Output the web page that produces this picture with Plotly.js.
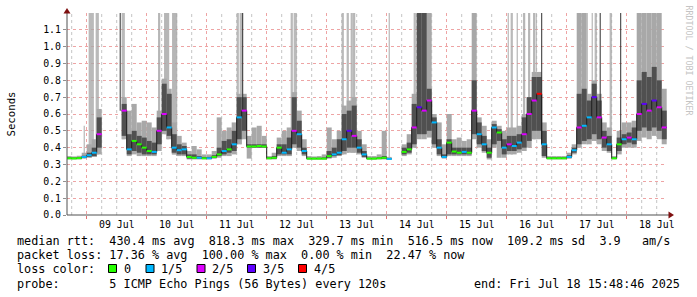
<!DOCTYPE html>
<html><head><meta charset="utf-8">
<script src="https://cdn.plot.ly/plotly-3.0.1.min.js"></script>
<style>html,body{margin:0;padding:0;background:#fff}#chart{width:697px;height:297px}</style>
</head><body><div id="chart"></div>
<script>
// time in hours relative to 09 Jul 2025 00:00, one value per 2-hour bin starting at -8 h
const BIN_START = -8;
const BIN_HOURS = 2;

const medianRtt = [
  .337,.336,.338,.345,.355,.370,.480,null,null,null,null,.620,
  .390,.440,.420,.400,.380,.375,.500,.600,.520,.400,.385,.390,
  .345,.340,.340,.337,.337,.345,.360,.380,.390,.420,.580,.620,
  .407,.407,.410,.407,.337,.340,.400,.370,.390,.500,.480,.380,
  .335,.335,.335,.335,.350,.360,.370,.450,.500,.470,.400,.360,
  .335,.335,.337,.340,.333,null,null,.375,.390,.520,.640,.620,
  .680,.550,.400,.345,.430,.377,.370,.375,.370,.620,.480,.420,
  .370,.520,.490,.400,.420,.410,.430,.480,.600,.680,.720,.420,
  .337,.337,.337,.337,.345,.385,.520,.530,.580,.700,.580,.460,
  .420,.337,.420,.450,.460,.450,.600,.660,.620,.680,.640,.520
];
const lossLevel = [
  0,0,0,1,1,1,2,null,null,null,null,2,
  1,0,0,0,0,1,2,2,1,1,1,1,
  0,0,1,0,1,0,0,1,0,1,1,2,
  0,0,0,0,0,0,0,1,1,2,1,1,
  0,0,0,0,0,1,1,1,3,2,1,1,
  0,0,0,0,1,null,null,0,0,2,3,2,
  2,1,1,1,0,0,0,1,0,2,1,1,
  0,1,0,1,2,1,1,2,2,2,4,1,
  0,0,0,0,1,1,2,1,1,3,2,2,
  1,0,0,1,2,1,2,3,2,3,2,2
];
const smokeMin = [
  .330,.330,.330,.335,.340,.345,.360,null,null,null,null,.450,
  .350,.360,.350,.350,.350,.350,.380,.480,.450,.360,.350,.350,
  .330,.330,.330,.330,.330,.335,.340,.350,.350,.360,.420,.450,
  .335,.400,.400,.400,.330,.330,.350,.350,.350,.400,.380,.350,
  .330,.330,.330,.330,.335,.340,.350,.360,.370,.370,.360,.340,
  .330,.330,.330,.330,.328,null,null,.350,.360,.400,.450,.450,
  .460,.400,.350,.335,.350,.350,.350,.350,.350,.450,.400,.370,
  .330,.400,.340,.340,.360,.360,.370,.380,.400,.450,.450,.340,
  .330,.330,.330,.330,.335,.360,.400,.420,.420,.440,.420,.380,
  .370,.330,.360,.400,.400,.400,.440,.460,.450,.470,.450,.420
];
const smokeMax = [
  .350,.348,.352,.370,.420,.450,.630,null,null,null,null,.700,
  .620,.660,.550,.560,.550,.520,.620,.810,.750,.550,.470,.430,
  .380,.410,.390,.360,.360,.380,.580,.500,.520,.550,.720,.720,
  .470,.520,.530,.470,.350,.370,.460,.500,.520,.730,.620,.450,
  .350,.348,.350,.360,.520,.450,.500,.650,.680,.700,.500,.420,
  .350,.350,.360,.500,.345,null,null,.420,.480,.720,1.2,1.2,
  1.2,.600,.550,.420,.600,.450,.460,.440,.450,1.2,.580,.530,
  .450,.560,.530,.500,.520,.520,.530,.600,.700,.850,.850,.550,
  .350,.350,.350,.350,.370,.420,1.2,1.2,.720,.800,.720,.550,
  .520,.350,.500,.550,.550,.560,1.2,1.2,1.2,1.2,1.2,.750
];
const smokeQ1 = [
  .333,.333,.334,.340,.345,.350,.400,null,null,null,null,.470,
  .360,.380,.370,.360,.360,.360,.420,.500,.470,.370,.360,.360,
  .335,.335,.335,.333,.333,.338,.350,.360,.370,.380,.450,.500,
  .400,.400,.400,.400,.333,.334,.360,.360,.360,.420,.400,.360,
  .332,.332,.332,.332,.340,.350,.355,.380,.400,.400,.370,.345,
  .332,.332,.333,.334,.330,null,null,.360,.370,.420,.480,.480,
  .500,.420,.360,.340,.360,.360,.360,.360,.360,.480,.420,.380,
  .340,.420,.440,.360,.380,.380,.390,.400,.440,.500,.500,.350,
  .333,.333,.333,.333,.338,.370,.420,.440,.450,.480,.450,.400,
  .380,.333,.380,.420,.430,.420,.500,.520,.500,.520,.500,.450
];
const smokeQ3 = [
  .342,.341,.343,.352,.370,.400,.580,null,null,null,null,.660,
  .480,.500,.470,.460,.440,.430,.580,.780,.720,.480,.420,.410,
  .360,.360,.350,.345,.345,.355,.400,.440,.450,.500,.700,.700,
  .420,.420,.420,.420,.342,.350,.420,.420,.460,.700,.560,.400,
  .340,.340,.340,.342,.380,.400,.450,.600,.620,.650,.450,.380,
  .340,.340,.342,.350,.338,null,null,.400,.430,.660,1.2,1.2,
  .750,.580,.450,.360,.450,.400,.400,.400,.400,.800,.550,.470,
  .400,.540,.510,.450,.470,.470,.480,.580,.700,.820,.820,.500,
  .342,.342,.342,.342,.355,.400,.720,.750,.680,.780,.680,.500,
  .470,.342,.460,.480,.490,.520,.800,.850,.820,.880,.800,.620
];
// short timeouts / outliers reaching beyond the plot (hours, 1 px each)
const spikeLightTime = [-1.0,1.0,1.4,1.8,2.2,2.6,3.8,4.2,4.6,14.2,14.6,15.0,28.8,29.2,31.2,31.6,32.0,32.4,32.8,
  34.4,34.8,35.2,35.6,36.0,60.2,60.6,61.4,61.8,62.2,81.8,82.2,83.0,83.4,83.8,102.2,102.6,104.2,104.6,105.8,106.2,
  106.8,107.2,121.0,131.0,131.4,168.6,169.8,170.2,172.2,174.8,175.2,176.8,177.2,178.8,179.2,179.8,200.2,202.2,
  203.4,203.8,209.4,209.8];
const spikeLightTop = [0.53,1.2,1.2,1.2,1.2,1.2,1.2,1.2,1.2,1.2,1.2,1.2,1.2,1.2,1.2,1.2,1.2,1.2,1.2,
  1.2,1.2,1.2,1.2,1.2,1.2,1.2,1.2,1.2,1.2,1.2,1.2,1.2,1.2,1.2,1.2,1.2,1.2,1.2,1.2,1.2,
  1.2,1.2,1.2,1.2,1.2,1.2,1.2,1.2,1.2,1.2,1.2,1.2,1.2,1.2,1.2,1.2,1.2,1.2,
  1.2,1.2,1.2,1.2];
const spikeDarkTime = [13.4,62.4,182.0,205.4,213.6];

const dayLabels = ['09 Jul','10 Jul','11 Jul','12 Jul','13 Jul','14 Jul','15 Jul','16 Jul','17 Jul','18 Jul'];
const yTickValues = [0,0.1,0.2,0.3,0.4,0.5,0.6,0.7,0.8,0.9,1.0,1.1];
const lossLabels = ['0','1/5','2/5','3/5','4/5'];
const lossColors = ['#26ff00','#00b8ff','#dd00ff','#5e00ff','#ff0000'];

const statsLines = [
  'median rtt:  430.4 ms avg  818.3 ms max  329.7 ms min  516.5 ms now  109.2 ms sd  3.9   am/s',
  'packet loss: 17.36 % avg  100.00 % max  0.00 % min  22.47 % now',
  'probe:       5 ICMP Echo Pings (56 Bytes) every 120s'
];
const endLabel = 'end: Fri Jul 18 15:48:46 2025';

// ---------- build ----------
const W = 697, H = 297, L = 67, R = 30, T = 13, B = 82;
const PW = W - L - R, PH = H - T - B;
const X_RANGE = [-7.88, 232.12];
const px = x => (x - L) / PW;
const py = y => (T + PH - y) / PH;
const nb = s => s.replace(/ /g, '\u00a0');
const MONO = 'DejaVu Sans Mono, monospace';

const binX = medianRtt.map((_, i) => BIN_START + i * BIN_HOURS);
const binC = binX.map(x => x + BIN_HOURS / 2);
function binOf(t) {
  let i = Math.floor((t - BIN_START) / BIN_HOURS);
  while (i < medianRtt.length && medianRtt[i] == null) i++;
  return Math.min(i, medianRtt.length - 1);
}

const traces = [];
traces.push({type:'bar', x:binC, base:smokeMin, y:smokeMax.map((v,i)=>v==null?null:v-smokeMin[i]),
  width:BIN_HOURS, marker:{color:'#a8a8a8', line:{width:0}}, hoverinfo:'skip'});
traces.push({type:'bar', x:spikeLightTime, base:spikeLightTime.map(t=>smokeMin[binOf(t)]),
  y:spikeLightTime.map((t,i)=>spikeLightTop[i]-smokeMin[binOf(t)]),
  width:0.4, marker:{color:'#a8a8a8', line:{width:0}}, hoverinfo:'skip'});
traces.push({type:'bar', x:binC, base:smokeQ1, y:smokeQ3.map((v,i)=>v==null?null:v-smokeQ1[i]),
  width:BIN_HOURS, marker:{color:'#505050', line:{width:0}}, hoverinfo:'skip'});
traces.push({type:'bar', x:spikeDarkTime, base:spikeDarkTime.map(t=>medianRtt[binOf(t)]),
  y:spikeDarkTime.map(t=>1.2-medianRtt[binOf(t)]),
  width:0.4, marker:{color:'#303030', line:{width:0}}, hoverinfo:'skip'});
const cx = [], cy = [];
medianRtt.forEach((m,i)=>{ cx.push(binX[i]); cy.push(m);
  if (m!=null && (i===medianRtt.length-1)) { cx.push(binX[i]+BIN_HOURS); cy.push(m); } });
traces.push({type:'scatter', mode:'lines', x:cx, y:cy, line:{shape:'hv', color:'#1a1a1a', width:1},
  connectgaps:false, hoverinfo:'skip'});
lossColors.forEach((col, lvl) => {
  const sx = [], sy = [];
  medianRtt.forEach((m,i)=>{ if (m!=null && lossLevel[i]===lvl) { sx.push(binX[i], binX[i]+BIN_HOURS, null); sy.push(m, m, null); } });
  traces.push({type:'scatter', mode:'lines', x:sx, y:sy, line:{color:col, width:2}, hoverinfo:'skip'});
});

const shapes = [], annotations = [];
// 6-hour minor grid (gray dotted), skipping midnights which carry the red major grid
for (let h = Math.ceil(X_RANGE[0] / 6) * 6; h <= X_RANGE[1]; h += 6) {
  if (h % 24 === 0) continue;
  shapes.push({type:'line', xref:'x', yref:'paper', x0:h, x1:h, y0:0, y1:1, layer:'below',
    line:{color:'#c4c4c4', width:1, dash:'dot'}});
}
shapes.push({type:'line', xref:'paper', yref:'paper', x0:0, x1:0, y0:0, y1:py(11), line:{color:'#505050', width:1}});
shapes.push({type:'line', xref:'paper', yref:'paper', x0:0, x1:px(669), y0:0, y1:0, line:{color:'#505050', width:1}});
shapes.push({type:'path', xref:'paper', yref:'paper', path:`M${px(63.5)},${py(13.5)} L${px(70.5)},${py(13.5)} L${px(67)},${py(8)} Z`,
  fillcolor:'#7f1010', line:{width:0}});
shapes.push({type:'path', xref:'paper', yref:'paper', path:`M${px(668.5)},${py(211.5)} L${px(668.5)},${py(218.5)} L${px(674)},${py(215)} Z`,
  fillcolor:'#7f1010', line:{width:0}});

dayLabels.forEach((lab, k) => annotations.push({xref:'x', yref:'paper', x:12 + 24*k, y:py(224.5), text:nb(lab),
  showarrow:false, xanchor:'center', yanchor:'middle', font:{family:MONO, size:9.9, color:'#000'}}));

annotations.push({xref:'paper', yref:'paper', x:px(10.5), y:py(114), text:'Seconds', textangle:-90, showarrow:false,
  xanchor:'center', yanchor:'middle', font:{family:MONO, size:10.7, color:'#000'}});
annotations.push({xref:'paper', yref:'paper', x:px(688.5), y:py(60), text:nb('RRDTOOL / TOBI OETIKER'), textangle:90, showarrow:false,
  xanchor:'center', yanchor:'middle', font:{family:MONO, size:8.3, color:'#c4c4c4'}});

const LF = {family:MONO, size:11.8, color:'#000'};
[[statsLines[0], 241.3], [statsLines[1], 255.3], [statsLines[2], 283.7]].forEach(([t, y]) =>
  annotations.push({xref:'paper', yref:'paper', x:px(16), y:py(y), text:nb(t), showarrow:false,
    xanchor:'left', yanchor:'middle', borderpad:0, font:LF}));
annotations.push({xref:'paper', yref:'paper', x:px(681), y:py(283.7), text:nb(endLabel), showarrow:false,
  xanchor:'right', yanchor:'middle', borderpad:0, font:LF});
annotations.push({xref:'paper', yref:'paper', x:px(16), y:py(268.7), text:nb('loss color:'), showarrow:false,
  xanchor:'left', yanchor:'middle', borderpad:0, font:LF});
const boxLeft = [108.5, 146, 197, 247.5, 298.5];
const labLeft = [122.5, 160, 210.5, 261.5, 312.5];
lossColors.forEach((col, k) => {
  shapes.push({type:'rect', xref:'paper', yref:'paper', x0:px(boxLeft[k]), x1:px(boxLeft[k]+8), y0:py(272.5), y1:py(264.5),
    fillcolor:col, line:{color:'#000', width:1}});
  annotations.push({xref:'paper', yref:'paper', x:px(labLeft[k]), y:py(268.7), text:lossLabels[k], showarrow:false,
    xanchor:'left', yanchor:'middle', borderpad:0, font:LF});
});

const layout = {
  width:W, height:H, margin:{l:L, r:R, t:T, b:B, pad:0},
  paper_bgcolor:'#fff', plot_bgcolor:'#fff', showlegend:false, barmode:'overlay',
  xaxis:{range:X_RANGE, tickmode:'linear', tick0:0, dtick:24, showticklabels:false,
    ticks:'outside', ticklen:3, tickcolor:'#e07070', showgrid:true, gridcolor:'#eea4a4', griddash:'dot', gridwidth:1,
    zeroline:false, showline:false, fixedrange:true},
  yaxis:{range:[0,1.2], tickmode:'array', tickvals:yTickValues, ticktext:yTickValues.map(v=>v.toFixed(1)),
    ticks:'outside', ticklen:3, tickcolor:'#909090', showgrid:true, gridcolor:'#eea4a4', griddash:'dot', gridwidth:1,
    zeroline:false, showline:false, fixedrange:true, tickfont:{family:MONO, size:9.9, color:'#000'}},
  shapes, annotations
};
Plotly.newPlot('chart', traces, layout, {displayModeBar:false, staticPlot:true});
</script></body></html>
